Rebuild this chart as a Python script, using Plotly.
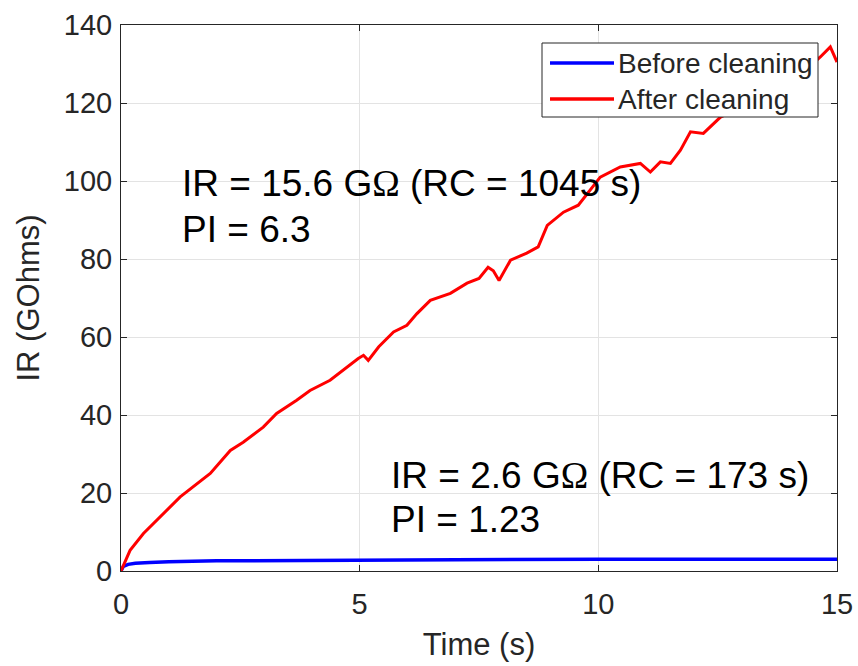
import plotly.graph_objects as go

# ---- data ----
t_after = [0, 0.1, 0.19, 0.47, 0.82, 1.24, 1.87, 2.29, 2.56, 2.98, 3.26, 3.68, 3.96, 4.38,
           4.97, 5.08, 5.18, 5.4, 5.71, 5.99, 6.2, 6.48, 6.9, 7.25, 7.5, 7.69, 7.8, 7.92,
           8.16, 8.5, 8.74, 8.93, 9.27, 9.58, 10.04, 10.46, 10.88, 11.09, 11.3, 11.51,
           11.72, 11.93, 12.2, 12.56, 13.0, 13.5, 14.0, 14.4, 14.65, 14.86, 15.0]
ir_after = [0, 3, 5.3, 9.6, 13.8, 19.0, 25, 30.9, 33, 36.9, 40.4, 43.8, 46.3, 48.9,
            54.5, 55.3, 54.0, 57.5, 61.3, 63, 66, 69.4, 71.2, 73.8, 75, 77.9, 77, 74.5,
            79.7, 81.5, 83.1, 88.6, 92, 93.8, 101, 103.6, 104.5, 102.3, 104.9, 104.5,
            107.9, 112.6, 112.2, 116.4, 119, 122.5, 126, 129, 131.8, 134.4, 130.5]

t_before = [0, 0.05, 0.15, 0.3, 0.6, 1, 2, 3, 4, 5, 7, 10, 12, 15]
ir_before = [0, 1.2, 1.7, 2.0, 2.2, 2.4, 2.6, 2.7, 2.8, 2.85, 2.9, 3.0, 3.0, 3.0]

x_ticks = [0, 5, 10, 15]
y_ticks = [0, 20, 40, 60, 80, 100, 120, 140]

series_names = ["Before cleaning", "After cleaning"]
series_colors = ["#0000ff", "#ff0000"]

FONT = "Liberation Sans, Arial, Helvetica, sans-serif"
AXC = "#262626"
OMEGA = '<span style="font-family:Liberation Serif, Times New Roman, serif">Ω</span>'

W, H = 858, 666
ML, MR, MT, MB = 121, 21, 25, 95
PW, PH = W - ML - MR, H - MT - MB


def px_x(p):
    return (p - ML) / PW


def px_y(p):
    return (H - MB - p) / PH


fig = go.Figure()
fig.add_trace(go.Scatter(x=t_before, y=ir_before, mode="lines", name=series_names[0],
                         line=dict(color=series_colors[0], width=3.5), showlegend=False))
fig.add_trace(go.Scatter(x=t_after, y=ir_after, mode="lines", name=series_names[1],
                         line=dict(color=series_colors[1], width=3), showlegend=False))

ann_font = dict(family=FONT, size=37, color="black")
notes = [
    (1.23, 99.3, f"IR = 15.6 G{OMEGA} (RC = 1045 s)"),
    (1.23, 87.5, "PI = 6.3"),
    (5.62, 24.5, f"IR = 2.6 G{OMEGA} (RC = 173 s)"),
    (5.62, 13.2, "PI = 1.23"),
]
for x, y, txt in notes:
    fig.add_annotation(x=x, y=y, text=txt, showarrow=False, xanchor="left",
                       yanchor="middle", font=ann_font, xref="x", yref="y")

# legend box (MATLAB style)
fig.add_shape(type="rect", xref="paper", yref="paper",
              x0=px_x(542), x1=px_x(818), y0=px_y(117), y1=px_y(43),
              fillcolor="white", line=dict(color=AXC, width=1), layer="above")
for i, (nm, col) in enumerate(zip(series_names, series_colors)):
    yc = 63 + 36 * i
    fig.add_shape(type="line", xref="paper", yref="paper",
                  x0=px_x(550), x1=px_x(614), y0=px_y(yc), y1=px_y(yc),
                  line=dict(color=col, width=3.5), layer="above")
    fig.add_annotation(x=px_x(616), y=px_y(yc + 1), xref="paper", yref="paper",
                       text=nm, showarrow=False, xanchor="left", yanchor="middle",
                       font=dict(family=FONT, size=28, color=AXC))

axis_common = dict(
    showline=True, linecolor=AXC, linewidth=1, mirror="ticks",
    ticks="inside", ticklen=6, tickcolor=AXC, automargin=False,
    showgrid=True, gridcolor="#e3e3e3", gridwidth=1, zeroline=False,
    tickfont=dict(family=FONT, size=29, color=AXC),
)

fig.update_layout(
    width=W, height=H,
    margin=dict(l=ML, r=MR, t=MT, b=MB),
    paper_bgcolor="white", plot_bgcolor="white",
    showlegend=False,
    xaxis=dict(range=[0, 15], tickvals=x_ticks, ticklabelstandoff=7, **axis_common,
               title=dict(text="Time (s)", font=dict(family=FONT, size=31, color=AXC),
                          standoff=14)),
    yaxis=dict(range=[0, 140], tickvals=y_ticks, ticklabelstandoff=2, **axis_common,
               title=dict(text="IR (GOhms)", font=dict(family=FONT, size=31, color=AXC),
                          standoff=14)),
)

fig.write_html("out.html")
